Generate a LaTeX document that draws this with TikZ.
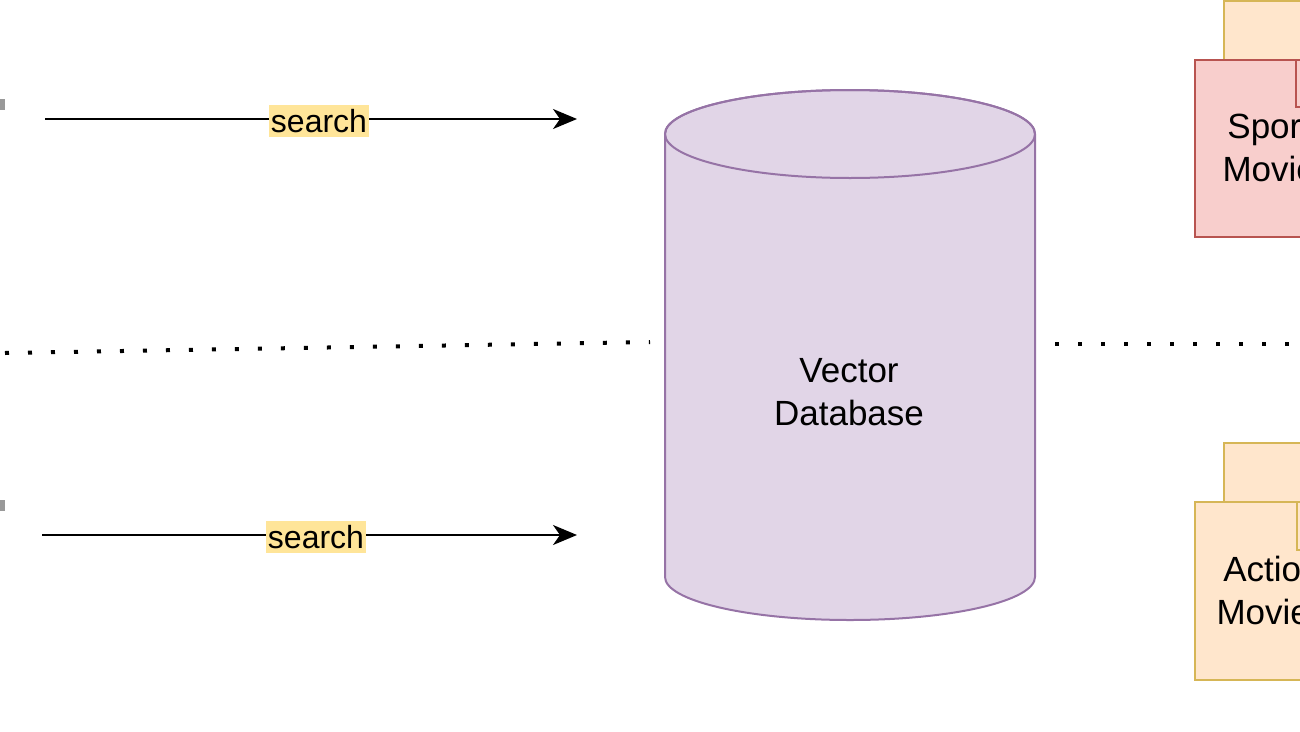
\documentclass[tikz,border=0pt]{standalone}
\usepackage{fontspec}
\setmainfont{Liberation Sans}
\usetikzlibrary{arrows.meta}
\definecolor{dbfill}{HTML}{E1D5E7}
\definecolor{dbdraw}{HTML}{9673A6}
\definecolor{pinkfill}{HTML}{F8CECC}
\definecolor{pinkdraw}{HTML}{B85450}
\definecolor{peachfill}{HTML}{FFE6CC}
\definecolor{peachdraw}{HTML}{D6B656}
\definecolor{lblbg}{HTML}{FFE599}
\tikzset{
  flow/.style={line width=2pt,-{Stealth[length=24pt,width=20pt,inset=7pt]}},
  lbl/.style={fill=lblbg,inner xsep=1.5pt,inner ysep=4pt,font=\fontsize{32}{38}\selectfont},
  dots/.style={line width=4pt,dash pattern=on 4pt off 19pt},
  boxtext/.style={align=center,font=\fontsize{35}{43}\selectfont},
  pinkbox/.style={fill=pinkfill,draw=pinkdraw,line width=2pt},
  peachbox/.style={fill=peachfill,draw=peachdraw,line width=2pt},
  stub/.style={fill=gray!80,draw=none}
}
\begin{document}
\begin{tikzpicture}[x=1pt,y=-1pt]
\useasboundingbox (0,0) rectangle (1300,731);
\clip (0,0) rectangle (1300,731);
% left stubs
\fill[stub] (-2,99) rectangle (5,110);
\fill[stub] (-2,500) rectangle (5,511);
% dotted lines
\coordinate (dl1) at (5,353);
\coordinate (dl2) at (650,342);
\coordinate (dr1) at (1055,344);
\coordinate (dr2) at (1305,344);
\draw[dots] (dl1) -- (dl2);
\draw[dots] (dr1) -- (dr2);
% cylinder
\path[fill=dbfill,draw=dbdraw,line width=2pt]
  (665,134) -- (665,577) arc[start angle=180,end angle=0,x radius=185,y radius=43]
  -- (1035,134) arc[start angle=0,end angle=-180,x radius=185,y radius=44] -- cycle;
\draw[dbdraw,line width=2pt] (850,134) ellipse[x radius=185,y radius=44];
\node[boxtext] (db) at (849,392) {Vector\\Database};
% arrows
\coordinate (a1s) at (45,119);
\coordinate (a1e) at (577,119);
\coordinate (a2s) at (42,535);
\coordinate (a2e) at (577,535);
\draw[flow] (a1s) -- (a1e);
\draw[flow] (a2s) -- (a2e);
\node[lbl] (s1) at (319,121) {search};
\node[lbl] (s2) at (316,537) {search};
% sports group
\path[peachbox] (1224,1) rectangle (1360,60);
\path[pinkbox] (1195,60) rectangle (1360,237);
\draw[pinkdraw,line width=2pt] (1296,60) -- (1296,107) -- (1360,107);
\node[boxtext] (sports) at (1278,148) {Sports\\Movies};
% action group
\path[peachbox] (1224,443) rectangle (1360,502);
\path[peachbox] (1195,502) rectangle (1360,680);
\draw[peachdraw,line width=2pt] (1297,502) -- (1297,550) -- (1360,550);
\node[boxtext] (action) at (1272,590) {Action\\Movies};
\end{tikzpicture}
\end{document}
